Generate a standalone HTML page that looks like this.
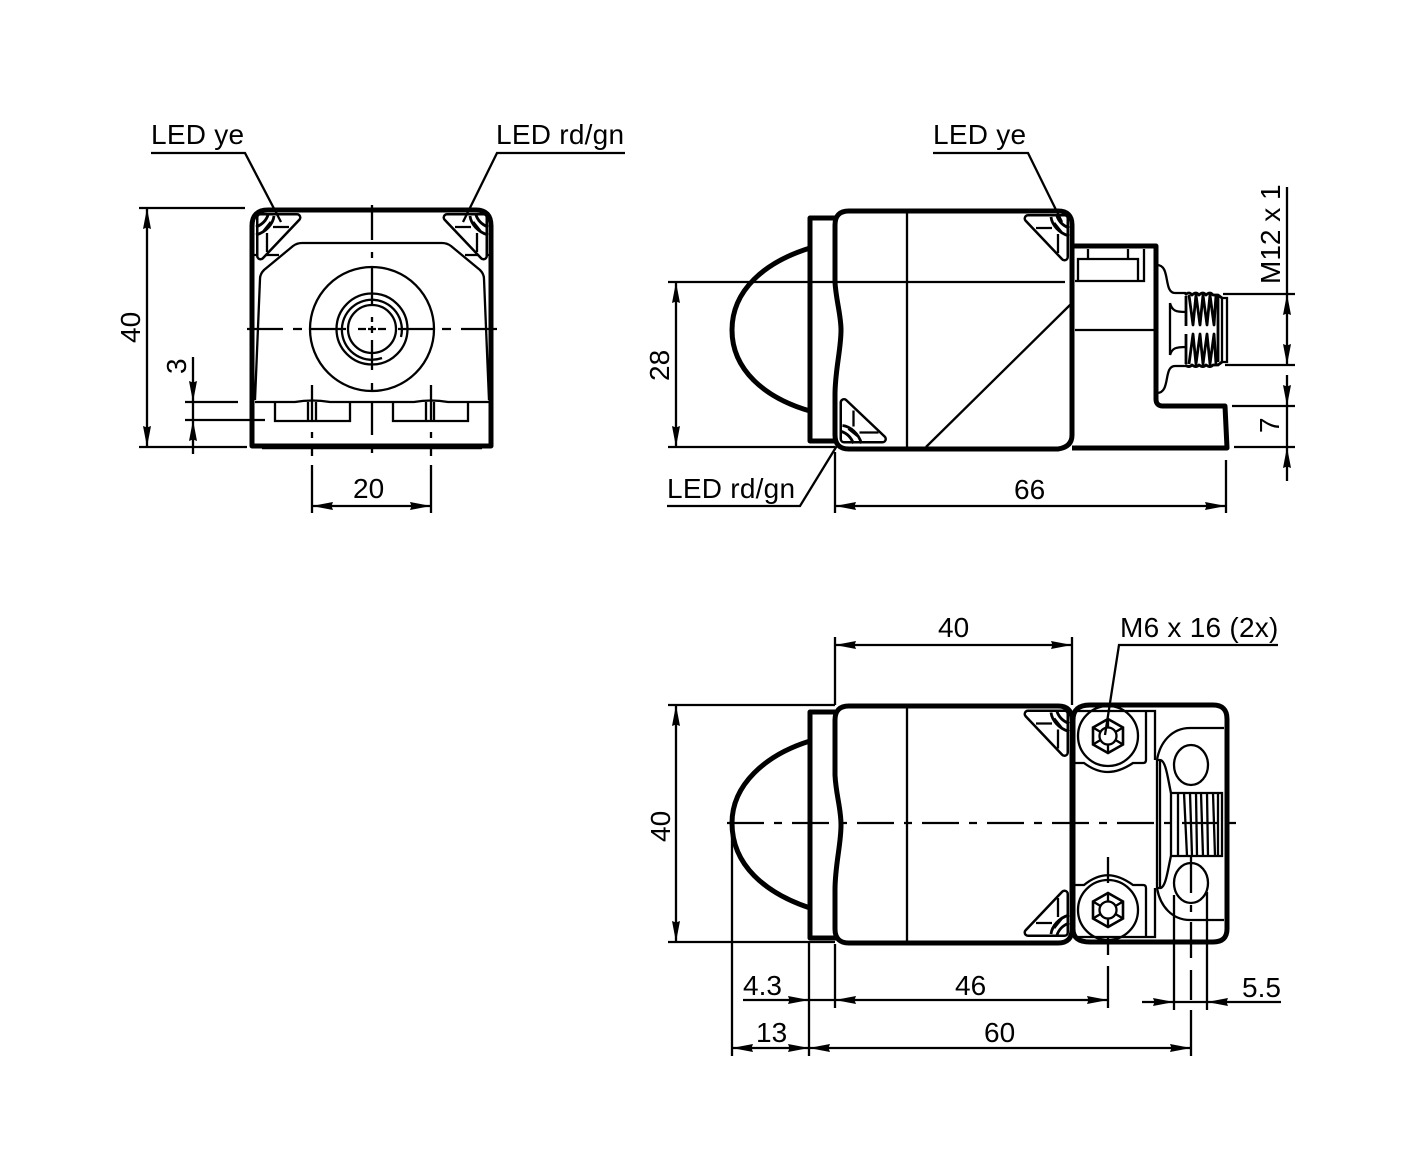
<!DOCTYPE html>
<html><head><meta charset="utf-8"><style>
html,body{margin:0;padding:0;background:#fff}
svg{display:block}
text{font-family:"Liberation Sans",sans-serif;font-size:28px;fill:#000}
.l{letter-spacing:.25px}
.t{fill:none;stroke:#000;stroke-width:2.3}
.b{fill:none;stroke:#000;stroke-width:5;stroke-linejoin:round}
.d{fill:none;stroke:#000;stroke-width:2.3;marker-end:url(#a)}
</style></head><body>
<svg width="1419" height="1167" viewBox="0 0 1419 1167" xmlns="http://www.w3.org/2000/svg">
<defs>
<marker id="a" markerUnits="userSpaceOnUse" markerWidth="23" markerHeight="10" refX="21" refY="4.5" orient="auto"><path d="M0,0.5 L21,4.5 L0,8.5 L1.5,4.5Z" fill="#000"/></marker>
<g id="led"><path d="M1,2.5 L37.5,2.5 L37.5,41 Z" fill="none" stroke="#000" stroke-width="9" stroke-linejoin="round"/><path d="M1,2.5 L37.5,2.5 L37.5,41 Z" fill="#fff" stroke="#fff" stroke-width="4" stroke-linejoin="round"/><path d="M9,12 H25 M31,18 V37" class="t"/><path d="M24,1 C25,9 32,17 42,20 M30,0 C32,6 37,10 42,12 M27,7 L35,17" fill="none" stroke="#000" stroke-width="2.8"/></g>
<g id="screw"><circle r="30" class="t"/><path d="M0,-17 L15,-8.5 L15,8.5 L0,17 L-15,8.5 L-15,-8.5 Z" class="t" style="stroke-width:2.6"/><circle r="8.5" class="t"/><path d="M0,-17 L0,-8.5 M15,-8.5 L7.5,-4 M15,8.5 L7.5,4 M0,17 L0,8.5 M-15,8.5 L-7.5,4 M-15,-8.5 L-7.5,-4" class="t"/></g>
</defs>

<!-- FRONT VIEW -->
<path class="b" d="M252,446 L252,226 Q252,210 268,210 L476,210 Q491,210 491,226 L491,446 Z"/>
<path d="M262,448 L482,448" stroke="#000" stroke-width="2.4" fill="none"/>
<path class="t" d="M255,400 L260,279 Q260,274 264,270 L293,246 Q297,243 302,243 L442,243 Q447,243 451,246 L480,270 Q484,274 484,279 L489,400"/>
<path class="t" d="M253,255 L279,255 M465,255 L490,255"/>
<use href="#led" transform="translate(300,215) scale(-1,1) translate(2,0)"/>
<use href="#led" transform="translate(446,215)"/>
<circle cx="372" cy="329" r="62" class="t"/><circle cx="372" cy="329" r="35.5" class="t"/>
<path class="t" d="M401,337 A30,30 0 1 0 382,358"/>
<circle cx="372" cy="329" r="24" class="t"/>
<path class="t" d="M255,402 L295,402 Q312,399 330,402 L414,402 Q431,399 448,402 L489,402"/>
<path class="t" d="M275,403 L275,421 L350,421 L350,403 M393,403 L393,421 L468,421 L468,403"/>
<path class="t" d="M308,402 L308,421 M316,402 L316,421 M426,402 L426,421 M434,402 L434,421"/>
<path class="t" d="M247,329 H283 M293,329 H302 M310,329 H346 M358,329 H366 M368,329 H376 M378,329 H386 M398,329 H434 M442,329 H451 M461,329 H497"/>
<path class="t" d="M372,205 V240 M372,252 V258 M372,268 V305 M372,317 V322 M372,326 V333 M372,340 V370 M372,383 V390 M372,403 V435 M372,448 V453"/>
<path class="t" d="M312,385 V422 M312,432 V438 M312,447 V456 M312,465 V513 M431,385 V422 M431,432 V438 M431,447 V456 M431,465 V513"/>
<path class="t" d="M139,208 H245 M139,447 H247 M185,402 H238 M185,420 H265 M193,402 V420"/>
<path class="d" d="M147,328 V208"/><path class="d" d="M147,328 V447"/>
<path class="d" d="M193,357 V402"/><path class="d" d="M193,454 V420"/>
<path class="d" d="M370,506 H312"/><path class="d" d="M370,506 H431"/>
<text transform="translate(140,343) rotate(-90)">40</text>
<text transform="translate(186,374) rotate(-90)">3</text>
<text x="353" y="498">20</text>
<text x="151" y="144" class="l">LED ye</text>
<text x="496" y="144" class="l">LED rd/gn</text>
<path class="t" d="M151,153 H245 L281,222 M625,153 H497 L463,222"/>

<!-- SIDE VIEW -->
<path class="b" d="M1072,225 Q1072,211 1058,211 L849,211 Q835,211 835,225 L835,282 C836,300 841,315 841,330 C841,350 835,370 835,395 L835,435 Q835,449 849,449 L1058,449 Q1072,447 1072,435 Z"/>
<path class="b" d="M835,218 L810,218 L810,441 L838,441"/>
<path class="b" d="M810,248 C765,262 732,290 732,330 C732,370 765,398 810,411"/>
<path class="t" d="M907,212 V447 M926,447 L1071,304"/>
<use href="#led" transform="translate(1027,216)"/>
<use href="#led" transform="matrix(0,1,1,0,841.5,401.5)"/>
<path class="b" d="M1073,246 H1156 V399 Q1156,406 1163,406 H1225 L1227,448 H1072"/>
<path class="t" d="M1075,330 H1154 M1075,281 H1144 V249 M1078,281 V259 H1138 V281 M1088,249 V259 M1128,249 V259"/>
<path class="t" d="M1157,265 C1171,265 1163,293 1175,293 H1186 M1157,393 C1171,393 1163,366 1175,366 H1186 M1170,303 V355 M1170,303 C1172,311 1176,312 1186,312 M1170,355 C1172,348 1176,347 1186,347"/>
<path d="M1186,296 V326 M1189,295 L1193,325 L1196,295 L1200,325 L1203,295 L1207,325 L1210,295 L1214,325 L1216,295 M1186,334 V364 M1189,364 L1193,334 L1196,364 L1200,334 L1203,364 L1207,334 L1210,364 L1214,334 L1216,364 M1185,295 Q1189,291 1192,295 Q1196,291 1199,295 Q1203,291 1206,295 Q1210,291 1213,295 L1218,295 L1222,298 M1185,365 Q1189,368 1192,365 Q1196,368 1199,365 Q1203,368 1206,365 Q1210,368 1213,365 L1218,365 L1222,362 M1218,296 V362" fill="none" stroke="#000" stroke-width="2.8" stroke-linejoin="round"/>
<path class="t" d="M1222,298 H1227 V362 H1222 V298"/>
<path class="t" d="M668,282 H1065 M668,447 H835 M835,452 V513 M1226,460 V513 M1223,294 H1295 M1225,365 H1295 M1232,406 H1295 M1234,447 H1295 M1287,187 V294 M1287,406 V447"/>
<path class="d" d="M676,365 V282"/><path class="d" d="M676,365 V447"/>
<path class="d" d="M1030,506 H835"/><path class="d" d="M1030,506 H1226"/>
<path class="d" d="M1287,330 V294"/><path class="d" d="M1287,330 V365"/><path class="d" d="M1287,375 V406"/><path class="d" d="M1287,481 V447"/>
<text transform="translate(669,381) rotate(-90)">28</text>
<text x="1014" y="499">66</text>
<text transform="translate(1280,284) rotate(-90)">M12 x 1</text>
<text transform="translate(1279,433) rotate(-90)">7</text>
<text x="933" y="144" class="l">LED ye</text>
<text x="667" y="498" class="l">LED rd/gn</text>
<path class="t" d="M933,153 H1028 L1062,222 M667,506 H800 L838,444"/>

<!-- BOTTOM VIEW -->
<path class="b" d="M1072,720 Q1072,706 1058,706 L849,706 Q835,706 835,720 L835,775 C836,795 841,808 841,825 C841,845 835,865 835,890 L835,929 Q835,943 849,943 L1058,943 Q1072,943 1072,929 Z"/>
<path class="b" d="M835,712 L810,712 L810,938 L838,938"/>
<path class="b" d="M810,741 C765,755 732,785 732,823 C732,865 765,893 810,908"/>
<path class="t" d="M907,707 V942"/>
<use href="#led" transform="translate(1027,711.5)"/>
<use href="#led" transform="translate(1027,935) scale(1,-1)"/>
<path class="b" d="M1073,720 Q1073,705 1090,705 H1213 Q1227,705 1227,719 V929 Q1227,942 1213,942 H1090 Q1073,942 1073,929 Z"/>
<use href="#screw" transform="translate(1108,736)"/>
<use href="#screw" transform="translate(1108,910)"/>
<path class="t" d="M1075,711 H1155 V760 M1146,711 V760 Q1146,763 1143,763 H1133 C1115,775 1100,775 1084,763 H1075"/>
<path class="t" d="M1075,937 H1155 V888 M1146,937 V888 Q1146,885 1143,885 H1133 C1115,872 1100,872 1084,885 H1075"/>
<path class="t" d="M1224,728 H1190 C1172,728 1160,742 1157,760 M1224,920 H1190 C1172,920 1160,906 1157,888"/>
<path class="t" d="M1157,760 H1160 C1166,760 1168,780 1171,793 M1157,888 H1160 C1166,888 1168,868 1171,856 M1160,760 V888 M1157,760 V888"/>
<ellipse cx="1191" cy="765" rx="17" ry="20" class="t"/><ellipse cx="1191" cy="883" rx="17" ry="20" class="t"/>
<path class="t" d="M1171,793 H1222 V856 H1171 Z M1178,793 V856 M1184,793 L1187,856 M1190,793 L1192,856 M1196,793 L1197,856 M1201,793 L1203,856 M1207,793 L1208,856 M1213,793 L1215,856 M1218,793 V856"/>
<path class="t" stroke-dasharray="37 10 8 10" d="M727,823 H1236"/>
<path class="t" d="M1108,857 V883 M1108,938 V955 M1108,966 V1008 M1191,857 V893 M1191,905 V912 M1191,922 V958 M1191,970 V1000 M1191,1010 V1056 M1174,895 V1010 M1207,892 V1010"/>
<path class="t" d="M835,637 V705 M1072,637 V705 M668,705 H835 M668,942 H835 M732,830 V1056 M809,942 V1056 M835,944 V1008"/>
<path class="d" d="M954,645 H835"/><path class="d" d="M954,645 H1072"/>
<path class="d" d="M676,823 V705"/><path class="d" d="M676,823 V942"/>
<path class="d" d="M743,1000 H809"/><path class="t" d="M809,1000 H835"/>
<path class="d" d="M970,1000 H835"/><path class="d" d="M970,1000 H1108"/>
<path class="d" d="M770,1048 H732"/><path class="d" d="M770,1048 H809"/>
<path class="d" d="M1000,1048 H809"/><path class="d" d="M1000,1048 H1191"/>
<path class="d" d="M1142,1002 H1174"/><path class="d" d="M1281,1002 H1207"/><path class="t" d="M1174,1002 H1207"/>
<text transform="translate(670,842) rotate(-90)">40</text>
<text x="938" y="637">40</text>
<text x="1120" y="637" class="l">M6 x 16 (2x)</text>
<text x="743" y="995">4.3</text>
<text x="955" y="995">46</text>
<text x="1242" y="997">5.5</text>
<text x="756" y="1042">13</text>
<text x="984" y="1042">60</text>
<path class="t" d="M1278,645 H1119 L1105,735"/>
</svg>
</body></html>
